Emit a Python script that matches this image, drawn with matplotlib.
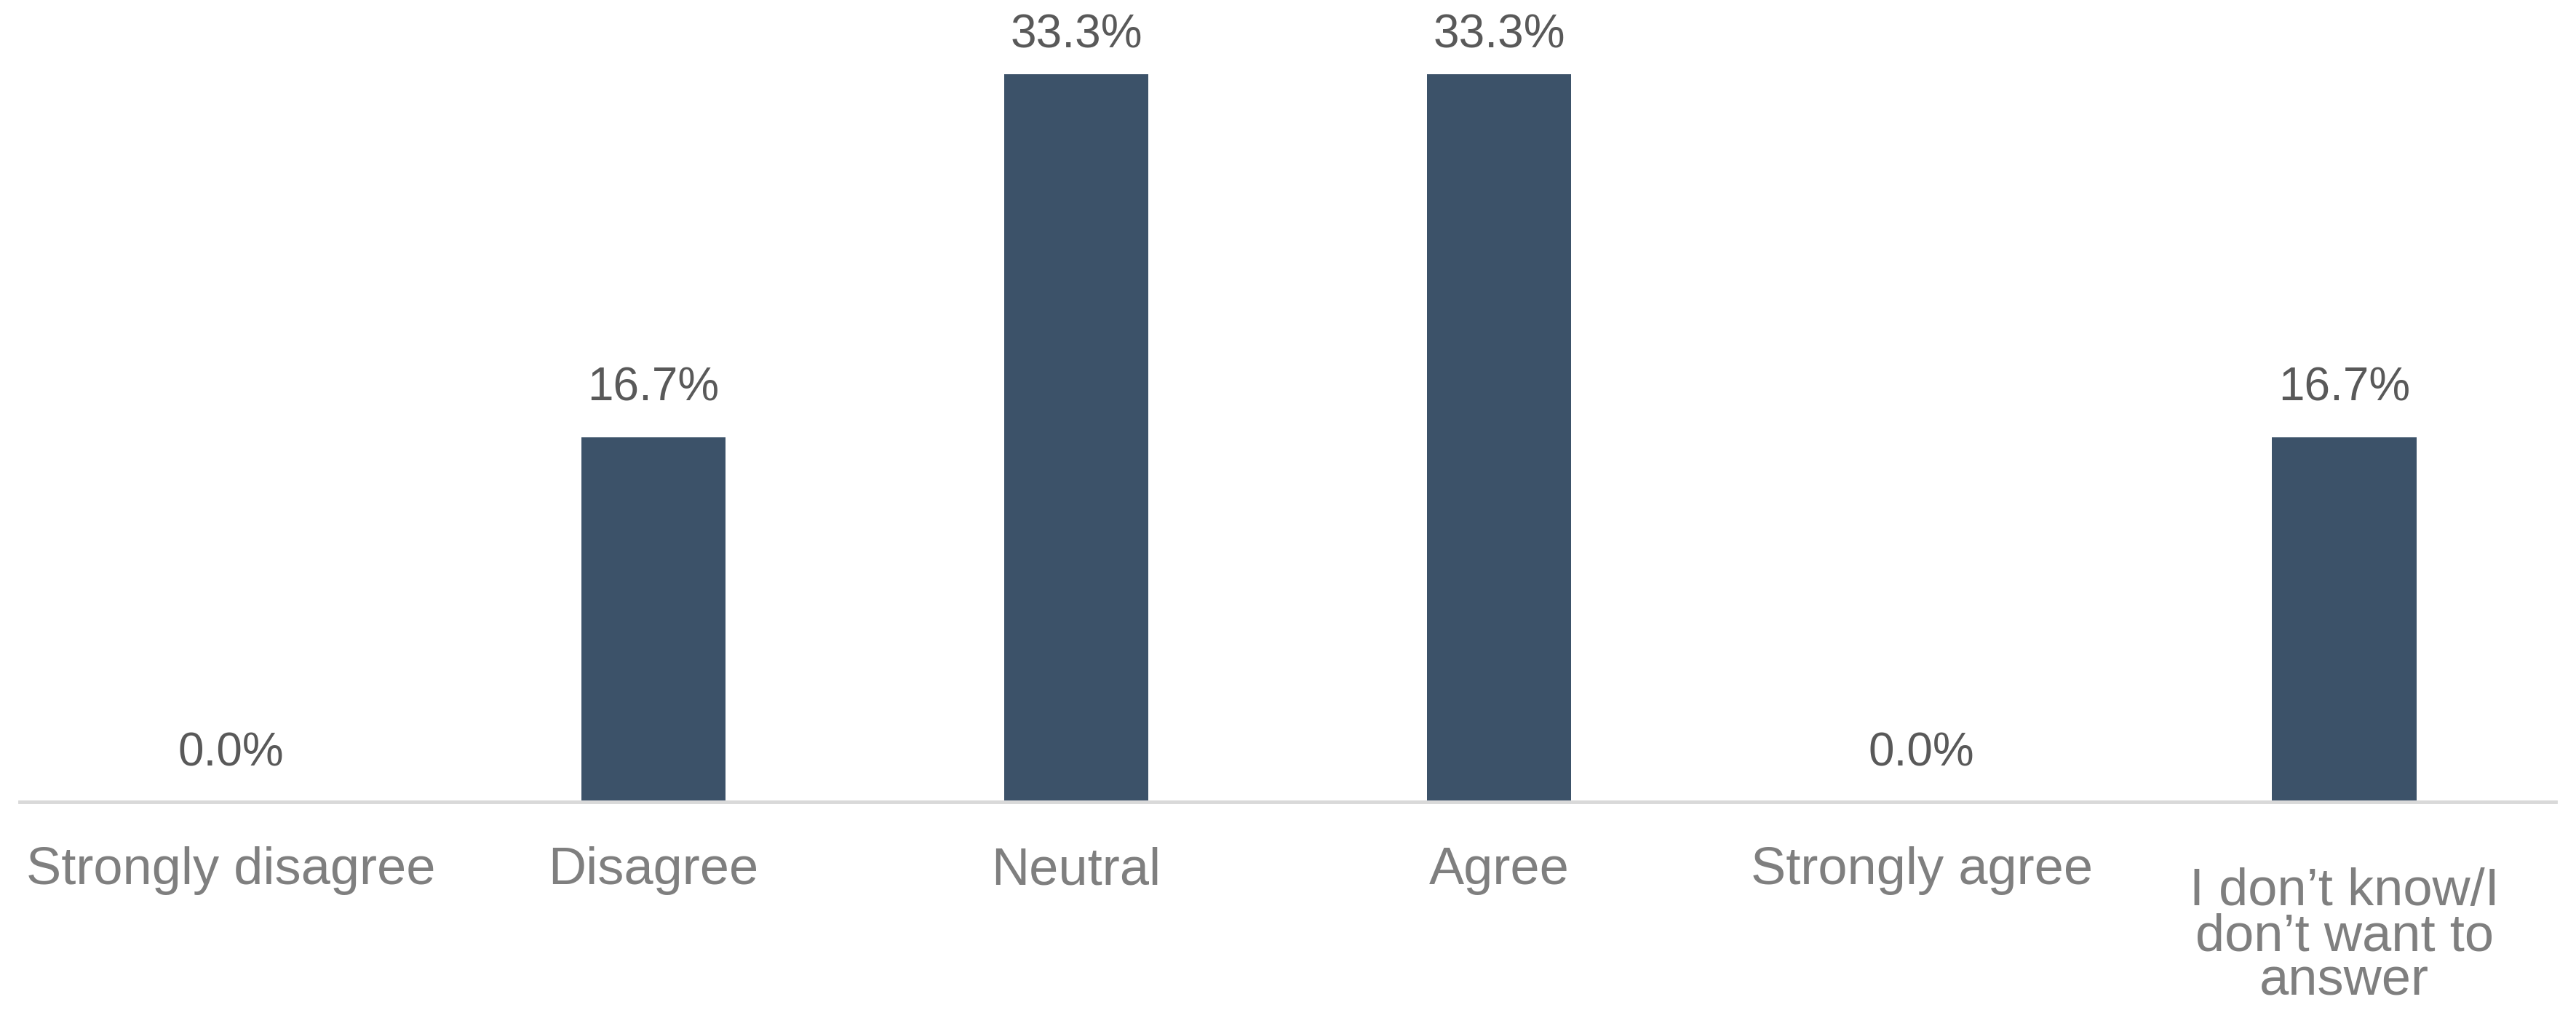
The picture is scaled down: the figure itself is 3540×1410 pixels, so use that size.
import numpy as np
import matplotlib
matplotlib.use('Agg')
import matplotlib.pyplot as plt
import matplotlib.transforms as mtransforms

# survey answers and shares (%)
categories = ['Strongly disagree', 'Disagree', 'Neutral', 'Agree',
              'Strongly agree', 'I don\u2019t know/I\ndon\u2019t want to\nanswer']
values = [0.0, 16.7, 33.3, 33.3, 0.0, 16.7]

bar_color = '#3C5269'
plt.rcParams['font.family'] = ['Liberation Sans', 'DejaVu Sans']

fig = plt.figure(figsize=(35.41, 14.10), dpi=100)
ax = fig.add_axes([0.0076, 0.2184, 0.9842, 0.7816])

x = np.arange(len(categories))
bars = ax.bar(x, values, width=0.342, color=bar_color, zorder=2)

labels = []
for xi, v in zip(x, values):
    t = ax.annotate(f'{v:.1f}%', (xi, v), xytext=(0, 36), textcoords='offset points',
                    ha='center', va='baseline', fontsize=46, color='#595959',
                    annotation_clip=False)
    labels.append(t)

ax.set_xlim(-0.5, len(categories) - 0.5)
ax.set_ylim(0, 36.7)
ax.set_xticks(x)
ax.set_xticklabels(categories, fontsize=52, color='#7F7F7F', linespacing=0.9)
ax.tick_params(axis='x', length=0, pad=44)
ax.set_yticks([])

# the wrapped last label sits a little lower, as in the source chart
last = ax.get_xticklabels()[-1]
last.set_transform(last.get_transform() +
                   mtransforms.ScaledTranslation(0, -21 / 72, fig.dpi_scale_trans))

for side in ['top', 'right', 'left']:
    ax.spines[side].set_visible(False)
ax.spines['bottom'].set_color('#D9D9D9')
ax.spines['bottom'].set_linewidth(3.5)
ax.spines['bottom'].set_zorder(3)

# keep the value labels inside the figure (pushed down like the source)
fig.canvas.draw()
r = fig.canvas.get_renderer()
top_px = fig.bbox.height - 18
for t in labels:
    bb = t.get_window_extent(r)
    if bb.y1 > top_px:
        dy = (bb.y1 - top_px) * 72 / fig.dpi
        t.set_position((0, 36 - dy))

fig.savefig('out.png', dpi=100, facecolor='white')
